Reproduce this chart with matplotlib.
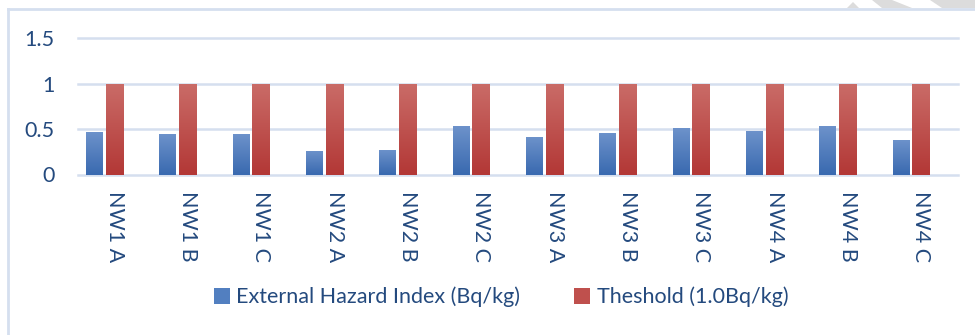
import numpy as np
import matplotlib
matplotlib.use("Agg")
import matplotlib.pyplot as plt
from matplotlib.patches import Patch, Polygon
from matplotlib.lines import Line2D

plt.rcParams['font.family'] = ['Lato', 'DejaVu Sans']

categories = ["NW1 A", "NW1 B", "NW1 C", "NW2 A", "NW2 B", "NW2 C",
              "NW3 A", "NW3 B", "NW3 C", "NW4 A", "NW4 B", "NW4 C"]
hazard_index = [0.47, 0.44, 0.44, 0.26, 0.27, 0.53,
                0.41, 0.46, 0.51, 0.48, 0.53, 0.38]
threshold = [1.0] * len(categories)
y_ticks = [0, 0.5, 1, 1.5]
y_tick_labels = ["0", "0.5", "1", "1.5"]
series_names = ["External Hazard Index (Bq/kg)", "Theshold (1.0Bq/kg)"]

text_color = "#244A7E"
grid_color = "#D5DFEF"
blue_top, blue_bot = "#6E93CB", "#3A6AB0"
red_top, red_bot = "#CA6C68", "#B33836"

W, H = 975, 335
fig = plt.figure(figsize=(W / 100, H / 100), dpi=100)
fig.patch.set_facecolor("white")

left, right = 78 / W, 958 / W
bottom, top = (H - 174.5) / H, (H - 38) / H
ax = fig.add_axes([left, bottom, right - left, top - bottom])

x = np.arange(len(categories))
bar_w_blue, bar_w_red = 0.23, 0.245


def gradient_bars(ax, xs, heights, width, c_top, c_bot):
    bars = ax.bar(xs, heights, width=width, color=c_bot, linewidth=0, zorder=2)
    cmap = matplotlib.colors.LinearSegmentedColormap.from_list("g", [c_bot, c_top])
    grad = np.linspace(0, 1, 256).reshape(-1, 1)
    for b in bars:
        x0, y0 = b.get_x(), b.get_y()
        w, h = b.get_width(), b.get_height()
        im = ax.imshow(grad, extent=(x0, x0 + w, y0, y0 + h), origin="lower",
                       aspect="auto", cmap=cmap, zorder=3)
        im.set_clip_path(b)
    return bars


gradient_bars(ax, x - 0.275, hazard_index, bar_w_blue, blue_top, blue_bot)
gradient_bars(ax, x, threshold, bar_w_red, red_top, red_bot)

ax.set_xlim(-0.5, len(categories) - 0.5)
ax.set_ylim(0, 1.5)
ax.set_yticks(y_ticks)
ax.set_yticklabels(y_tick_labels)
ax.set_xticks(x)
ax.set_xticklabels(categories, rotation=270, ha="center", va="top")

for s in ax.spines.values():
    s.set_visible(False)
for yv in y_ticks:
    ax.axhline(yv, color=grid_color, linewidth=1.8, zorder=1, clip_on=False)

ax.tick_params(axis="y", length=0, pad=17, labelsize=15.5, labelcolor=text_color)
ax.tick_params(axis="x", length=0, pad=12, labelsize=15.5, labelcolor=text_color)

# legend
handles = [Patch(facecolor="#527FC0", edgecolor="none"),
           Patch(facecolor="#BF504D", edgecolor="none")]
fig.legend(handles, series_names, loc="center", bbox_to_anchor=(0.514, 0.113),
           ncol=2, frameon=False, fontsize=15.5, labelcolor=text_color,
           handlelength=0.75, handleheight=0.75, handletextpad=0.3,
           columnspacing=2.5)

# chart frame (top and left edges)
fig.add_artist(Line2D([8 / W, 1.0], [(H - 9) / H, (H - 9) / H],
                      transform=fig.transFigure, color=grid_color, linewidth=2))
fig.add_artist(Line2D([8 / W, 8 / W], [0, (H - 9) / H],
                      transform=fig.transFigure, color=grid_color, linewidth=2))

# faint page watermark strokes in the top-right corner
for pts in ([(847, 8), (853, 2), (859, 8)],
            [(872, 0), (892, 0), (912, 8), (882, 8)],
            [(930, 0), (975, 0), (975, 8), (942, 8)]):
    fig.add_artist(Polygon([(px / W, (H - py) / H) for px, py in pts],
                           closed=True, transform=fig.transFigure,
                           facecolor="#DCDCDC", edgecolor="none", zorder=0))

fig.savefig("out.png", dpi=100, facecolor="white")
